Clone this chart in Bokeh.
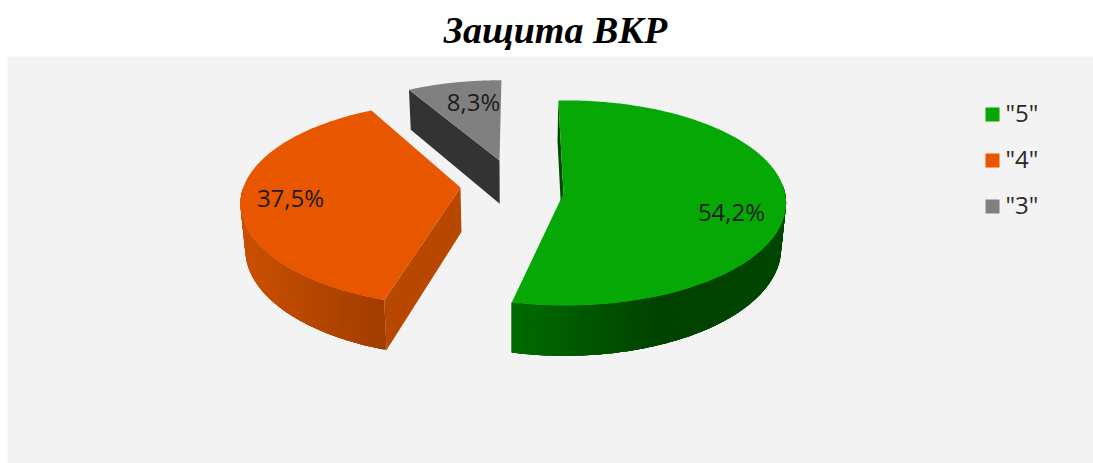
import numpy as np
from bokeh.core.properties import value
from bokeh.embed import file_html
from bokeh.models import Range1d
from bokeh.plotting import figure
from bokeh.resources import INLINE

title = "Защита ВКР"
categories = ['"5"', '"4"', '"3"']
shares = [54.2, 37.5, 8.3]
labels = ["54,2%", "37,5%", "8,3%"]
top_colors = ["#05a805", "#e85600", "#808080"]

# 3D layout of each slice, in page pixels
apex = [(563, 193), (460, 187), (499, 160)]
arc_centre = [(565, 195), (461.5, 196), (499, 159)]
radius_x = [220, 221, 197]
radius_y = [102, 102, 85]
turn = [-2.0, 4.0, 0.6]
label_pos = [(731, 211), (290, 197), (473, 101)]
legend_y = [112, 158, 204]
legend_box_y = [114, 160, 206]
# wall colours: (screen x, colour) stops of the outer wall, and the flat cut-face colour
wall_stops = [
    [(510, (0, 108, 0)), (660, (0, 66, 0)), (786, (0, 70, 0))],
    [(240, (202, 80, 0)), (387, (160, 60, 0))],
    [(400, (51, 51, 51)), (510, (51, 51, 51))],
]
cut_colors = ["#004a00", "#b84700", "#333333"]
persp = 0.073

W, H = 1093, 463
p = figure(width=W, height=H, output_backend="svg", toolbar_location=None,
           x_range=Range1d(0, W), y_range=Range1d(H, 0), min_border=0)
p.axis.visible = False
p.grid.visible = False
p.outline_line_color = None
p.background_fill_color = "white"
p.border_fill_color = "white"

p.quad(left=[7], right=[W], top=[56], bottom=[H], fill_color="#f3f3f3", line_color=None)


def arc(i, theta):
    t = np.radians(np.asarray(theta, dtype=float) + turn[i])
    s = 1 / (1 + persp * np.cos(t))
    cx, cy = arc_centre[i]
    return cx + radius_x[i] * np.sin(t) * s, cy - radius_y[i] * np.cos(t) * s


def down(x, y):
    """Where a point of the top face lands on the bottom face."""
    x, y = np.asarray(x, dtype=float), np.asarray(y, dtype=float)
    h = 40 + (y - 90) * 10 / 210
    return x - (x - 512) * 0.018, y + h


def hexc(c):
    return "#%02x%02x%02x" % tuple(int(round(v)) for v in c)


def shade(i, x):
    st = wall_stops[i]
    xs = [a for a, _ in st]
    return hexc([np.interp(x, xs, [c[k] for _, c in st]) for k in range(3)])


fractions = np.array(shares) / sum(shares)
edges = np.concatenate([[0], np.cumsum(fractions)]) * 360

for i in [2, 1, 0]:
    th = np.linspace(edges[i], edges[i + 1], 181)
    x, y = arc(i, th)
    ax, ay = apex[i]
    bx, by = down(x, y)
    apx, apy = down(ax, ay)
    # the cut face that the viewer can see
    p.patch([ax, x[0], bx[0], apx], [ay, y[0], by[0], apy],
            fill_color=cut_colors[i], line_color=None)
    # the outer wall: overlapping strips of its front part, so no seams show
    xs, ys, cols = [], [], []
    n = len(th)
    for j in range(n - 1):
        if y[j] < arc_centre[i][1] - 5 and y[min(j + 4, n - 1)] < arc_centre[i][1] - 5:
            continue
        k = min(j + 4, n - 1)
        xs.append(np.r_[x[j:k + 1], bx[j:k + 1][::-1]])
        ys.append(np.r_[y[j:k + 1], by[j:k + 1][::-1]])
        cols.append(shade(i, (x[j] + x[j + 1]) / 2))
    if xs:
        p.patches(xs, ys, fill_color=cols, line_color=None)
    # the top face
    p.patch(np.r_[ax, x], np.r_[ay, y], fill_color=top_colors[i], line_color=None)

p.text(x=[px for px, _ in label_pos], y=[py for _, py in label_pos], text=labels,
       text_align="center", text_baseline="middle", text_font=value("Open Sans"),
       text_font_size="24px", text_color="#1c1c1c")

p.rect(x=[992] * 3, y=legend_box_y, width=14, height=14, fill_color=top_colors, line_color=None)
p.text(x=[1005] * 3, y=legend_y, text=categories, text_align="left", text_baseline="middle",
       text_font=value("Open Sans"), text_font_size="24px", text_color="#2a2a2a")

p.text(x=[555], y=[29], text=[title], text_align="center", text_baseline="middle",
       text_font=value("Liberation Serif"), text_font_size="38px", text_font_style="bold italic",
       text_color="black")

open("out.html", "w").write(file_html(p, INLINE))
